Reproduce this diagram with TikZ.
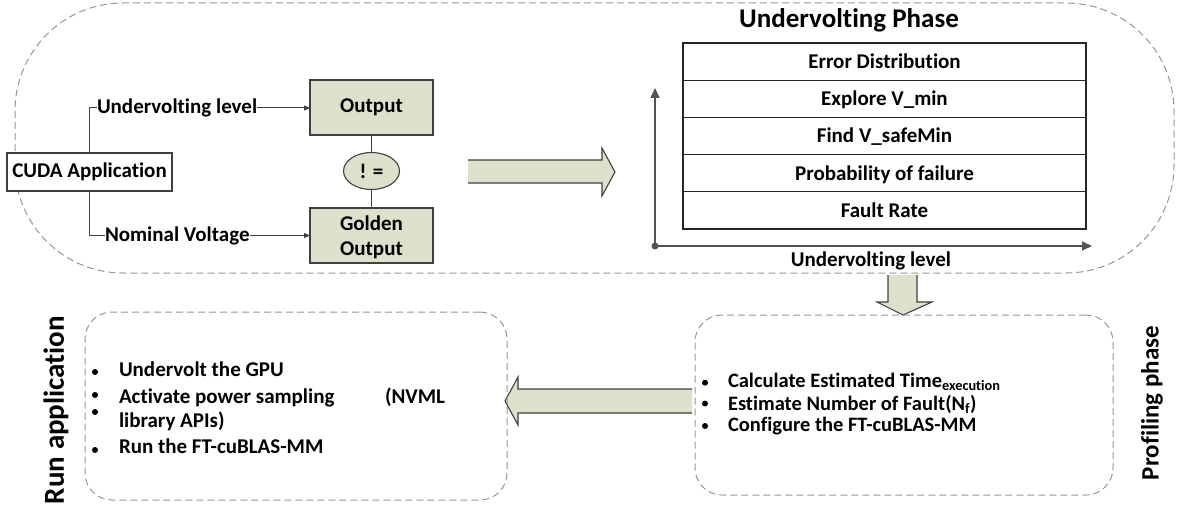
\documentclass[tikz,border=0pt]{standalone}
\usepackage{fontspec}
\setmainfont{Carlito}[Ligatures=NoCommon]
\usetikzlibrary{arrows.meta,shapes.geometric}
\definecolor{boxfill}{RGB}{221,225,203}
\definecolor{edge}{RGB}{64,64,64}
\definecolor{dashgray}{RGB}{150,150,150}
\tikzset{
  base font/.style={font=\fontsize{21}{25}\selectfont\bfseries},
  gbox/.style={draw=edge, line width=1.1pt, fill=boxfill, inner sep=0pt, outer sep=0pt, base font, align=center},
  wbox/.style={draw=edge, line width=1.1pt, fill=white, inner sep=0pt, outer sep=0pt, base font},
  row/.style={draw=black!85, line width=1.1pt, inner sep=0pt, outer sep=0pt, minimum width=403pt, minimum height=37.2pt},
  lbl/.style={inner sep=0pt, outer sep=0pt, base font},
  blist/.style={inner sep=0pt, outer sep=0pt, font=\fontsize{20.5}{24}\selectfont\bfseries, anchor=base west},
  dashbox/.style={draw=dashgray, line width=1pt, dash pattern=on 7pt off 4pt},
  conn/.style={draw=edge, line width=1pt, -{Triangle[length=6pt,width=5pt]}},
  plain/.style={draw=edge, line width=1pt},
  axis/.style={draw=edge!90, line width=1.6pt, -{Triangle[length=10pt,width=9pt]}},
  blockfill/.style={fill=boxfill},
  blockline/.style={draw=edge, line width=1.1pt, line join=miter},
  bul/.style={circle, fill=black, inner sep=0pt, minimum size=6pt},
}
\begin{document}
\begin{tikzpicture}[x=1pt,y=-1pt]
\useasboundingbox (0,0) rectangle (1177,508);

% ---- undervolting phase frame ----
\draw[dashbox, rounded corners=108pt] (15,3) rectangle (1174,273);

% ---- comparison of outputs ----
\node[wbox, minimum width=165pt, minimum height=38pt] (cuda) at (89.5,172) {CUDA Application};
\node[gbox, minimum width=123pt, minimum height=55pt] (out) at (371.5,107.5) {Output};
\node[gbox, minimum width=123pt, minimum height=55pt] (gold) at (371.5,235.5) {};
\node[lbl, anchor=base] (goldA) at (371.5,230) {Golden};
\node[lbl, anchor=base] (goldB) at (371.5,255) {Output};
\node[gbox, ellipse, minimum width=56pt, minimum height=37pt] (neq) at (371.5,171) {! =};
\draw[plain] (out) -- (neq);
\draw[plain] (neq) -- (gold);

\node[lbl, anchor=west] (uvl) at (97,108) {Undervolting level};
\node[lbl, anchor=west] (nom) at (105,235.5) {Nominal Voltage};
\draw[plain] (cuda.north) |- (uvl.west);
\draw[conn] (uvl.east) -- (out.west |- uvl.east);
\draw[plain] (cuda.south) |- (nom.west);
\draw[conn] (nom.east) -- (gold.west |- nom.east);

% ---- block arrow to the table ----
\fill[blockfill] (468,160) -- (602,160) -- (602,148) -- (615,172) -- (602,196) -- (602,183) -- (468,183) -- cycle;
\draw[blockline] (468,160) -- (602,160) -- (602,148) -- (615,172) -- (602,196) -- (602,183) -- (468,183);

% ---- undervolting phase table ----
\node[lbl, font=\fontsize{27}{30}\selectfont\bfseries, anchor=base] (title) at (849,27.5) {Undervolting Phase};
\node[row] (r1) at (884.5,61.6) {};
\node[row] (r2) at (884.5,98.8) {};
\node[row] (r3) at (884.5,136.0) {};
\node[row] (r4) at (884.5,173.2) {};
\node[row] (r5) at (884.5,210.4) {};
\node[lbl, anchor=base] (t1) at (884.5,68.5) {Error Distribution};
\node[lbl, anchor=base] (t2) at (884.5,105.7) {Explore V\_min};
\node[lbl, anchor=base] (t3) at (884.5,142.9) {Find V\_safeMin};
\node[lbl, anchor=base] (t4) at (884.5,180.1) {Probability of failure};
\node[lbl, anchor=base] (t5) at (884.5,217.3) {Fault Rate};

\coordinate (orig) at (655,246);
\coordinate (xend) at (1092,246);
\coordinate (yend) at (655,88);
\draw[axis] (orig) -- (xend);
\draw[axis] (orig) -- (yend);
\fill[edge!90] (orig) circle (3.5pt);
\node[lbl, anchor=base] (xlab) at (871,266) {Undervolting level};

% ---- block arrow down to profiling ----
\fill[blockfill] (888,275) -- (888,302) -- (877,302) -- (903,315) -- (932,302) -- (917,302) -- (917,275) -- cycle;
\draw[blockline] (888,275) -- (888,302) -- (877,302) -- (903,315) -- (932,302) -- (917,302) -- (917,275);

% ---- profiling phase ----
\node[dashbox, rounded corners=27pt, minimum width=418pt, minimum height=180pt, inner sep=0pt] (prof) at (904,405) {};
\node[lbl, font=\fontsize{25}{30}\selectfont\bfseries, rotate=90] (proft) at (1152,403) {Profiling phase};
\node[bul] (pb1) at (705,382.7) {};
\node[bul] (pb2) at (705,403.5) {};
\node[bul] (pb3) at (705,426) {};
\node[blist] (p1) at (728,387.7) {Calculate Estimated Time\textsubscript{execution}};
\node[blist] (p2) at (728,410) {Estimate Number of Fault(N\textsubscript{f})};
\node[blist] (p3) at (728,431.7) {Configure the FT-cuBLAS-MM};

% ---- block arrow to run application ----
\fill[blockfill] (692,389) -- (518,389) -- (518,377) -- (505,401) -- (518,425) -- (518,413) -- (692,413) -- cycle;
\draw[blockline] (692,389) -- (518,389) -- (518,377) -- (505,401) -- (518,425) -- (518,413) -- (692,413);

% ---- run application ----
\node[dashbox, rounded corners=27pt, minimum width=422pt, minimum height=188pt, inner sep=0pt] (run) at (296,406) {};
\node[lbl, font=\fontsize{29}{32}\selectfont\bfseries, rotate=90] (runt) at (56,410) {Run application};
\node[bul] (rb1) at (95,372) {};
\node[bul] (rb2) at (95,395) {};
\node[bul] (rb3) at (95,412) {};
\node[bul] (rb4) at (95,450) {};
\node[blist, font=\fontsize{21}{25}\selectfont\bfseries] (a1) at (119,376.7) {Undervolt the GPU};
\node[blist, font=\fontsize{21}{25}\selectfont\bfseries] (a2) at (119,403) {Activate power sampling};
\node[blist, font=\fontsize{21}{25}\selectfont\bfseries] (a2b) at (385,403) {(NVML};
\node[blist, font=\fontsize{21}{25}\selectfont\bfseries] (a3) at (119,427) {library APIs)};
\node[blist, font=\fontsize{21}{25}\selectfont\bfseries] (a4) at (119,453) {Run the FT-cuBLAS-MM};
\end{tikzpicture}
\end{document}
